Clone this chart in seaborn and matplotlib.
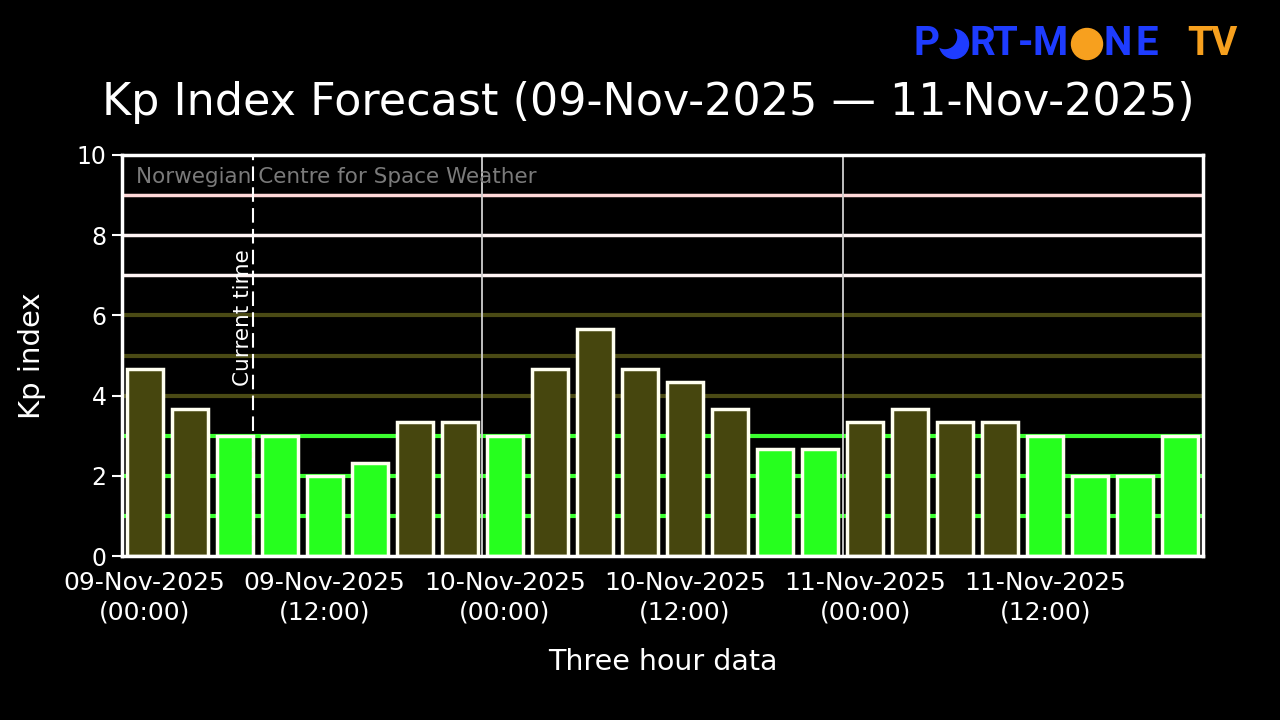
import numpy as np
import pandas as pd
import matplotlib
matplotlib.use('Agg')
import matplotlib.pyplot as plt
import seaborn as sns
from matplotlib.patches import Circle

# Kp forecast, three hour slots from 09-Nov-2025 00:00 to 11-Nov-2025 21:00
kp_values = [4.67, 3.67, 3.0, 3.0, 2.0, 2.33, 3.33, 3.33,
             3.0, 4.67, 5.67, 4.67, 4.33, 3.67, 2.67, 2.67,
             3.33, 3.67, 3.33, 3.33, 3.0, 2.0, 2.0, 3.0]
tick_slots = [0, 4, 8, 12, 16, 20]
tick_labels = ['09-Nov-2025\n(00:00)', '09-Nov-2025\n(12:00)',
               '10-Nov-2025\n(00:00)', '10-Nov-2025\n(12:00)',
               '11-Nov-2025\n(00:00)', '11-Nov-2025\n(12:00)']
day_breaks = [7.5, 15.5]
current_time = 2.4
green_levels = [1, 2, 3]
olive_levels = [4, 5, 6]
storm_levels = [7, 8, 9]

GREEN = '#26ff1e'
OLIVE = '#46460e'

df = pd.DataFrame({'slot': range(len(kp_values)), 'kp': kp_values})
bar_colors = [OLIVE if v > 3 else GREEN for v in kp_values]

plt.rcParams['font.family'] = ['DejaVu Sans']
fig = plt.figure(figsize=(12.8, 7.2), dpi=100, facecolor='black')
ax = fig.add_axes([122 / 1280, 1 - 556 / 720, (1203 - 122) / 1280, (556 - 155) / 720])
ax.set_facecolor('black')

# background level lines
for lv in green_levels:
    ax.axhline(lv, color='#3cff30', lw=3, zorder=0)
for lv in olive_levels:
    ax.axhline(lv, color='#4a4a14', lw=3, zorder=0)
ax.axhline(storm_levels[0], color='#fff4f4', lw=2.5, zorder=0)
ax.axhline(storm_levels[1], color='#fff4f4', lw=2.5, zorder=0)
ax.axhline(storm_levels[2], color='#ffd8d8', lw=2.5, zorder=0)
for xb in day_breaks:
    ax.axvline(xb, color='#d0d0d0', lw=1.3, zorder=0.5)

sns.barplot(data=df, x='slot', y='kp', hue='slot', palette=bar_colors,
            legend=False, width=0.8, edgecolor='#fffff0', linewidth=2.5,
            saturation=1, ax=ax, zorder=2)

ax.axvline(current_time, color='white', lw=1.5, ls=(0, (7, 3)), zorder=3)
ax.text(current_time - 0.21, 4.25, 'Current time', rotation=90, color='white',
        fontsize=15.5, ha='center', va='bottom', zorder=4)
ax.text(-0.18, 9.45, 'Norwegian Centre for Space Weather', color='#7a7a7a',
        fontsize=15.5, ha='left', va='center')

ax.set_xlim(-0.5, len(kp_values) - 0.5)
ax.set_ylim(0, 10)
ax.set_yticks([0, 2, 4, 6, 8, 10])
ax.set_xticks(tick_slots)
ax.set_xticklabels(tick_labels, linespacing=1.25)
ax.tick_params(axis='x', length=0, pad=11, colors='white', labelsize=18)
ax.tick_params(axis='y', length=7, width=1.5, colors='white', labelsize=17, pad=4)
for sp in ax.spines.values():
    sp.set_color('white')
    sp.set_linewidth(2.5)

ax.set_xlabel('Three hour data', color='white', fontsize=20.5, labelpad=17)
ax.set_ylabel('Kp index', color='white', fontsize=21, labelpad=22)
fig.text(648 / 1280, 1 - 102 / 720, 'Kp Index Forecast (09-Nov-2025 \u2014 11-Nov-2025)',
         color='white', fontsize=32, ha='center', va='center')

# logo
BLUE = '#1e3cff'
ORANGE = '#f7a01e'
logo = [('P', 927, BLUE), ('R', 982, BLUE), ('T', 1005, BLUE), ('-', 1026, BLUE),
        ('M', 1050, BLUE), ('N', 1118, BLUE), ('E', 1147, BLUE),
        ('T', 1200, ORANGE), ('V', 1224, ORANGE)]
for ch, px, col in logo:
    fig.text(px / 1280, 1 - 44 / 720, ch, color=col, fontsize=29, fontweight='bold',
             family='Roboto', ha='center', va='center')
tr = fig.dpi_scale_trans
fig.patches.append(Circle((9.54, (720 - 44) / 100), 0.145, color=BLUE, transform=tr))
fig.patches.append(Circle((9.45, (720 - 37) / 100), 0.115, color='black', transform=tr))
fig.patches.append(Circle((10.87, (720 - 44) / 100), 0.155, color=ORANGE, transform=tr))

fig.savefig('out.png', dpi=100, facecolor='black')
